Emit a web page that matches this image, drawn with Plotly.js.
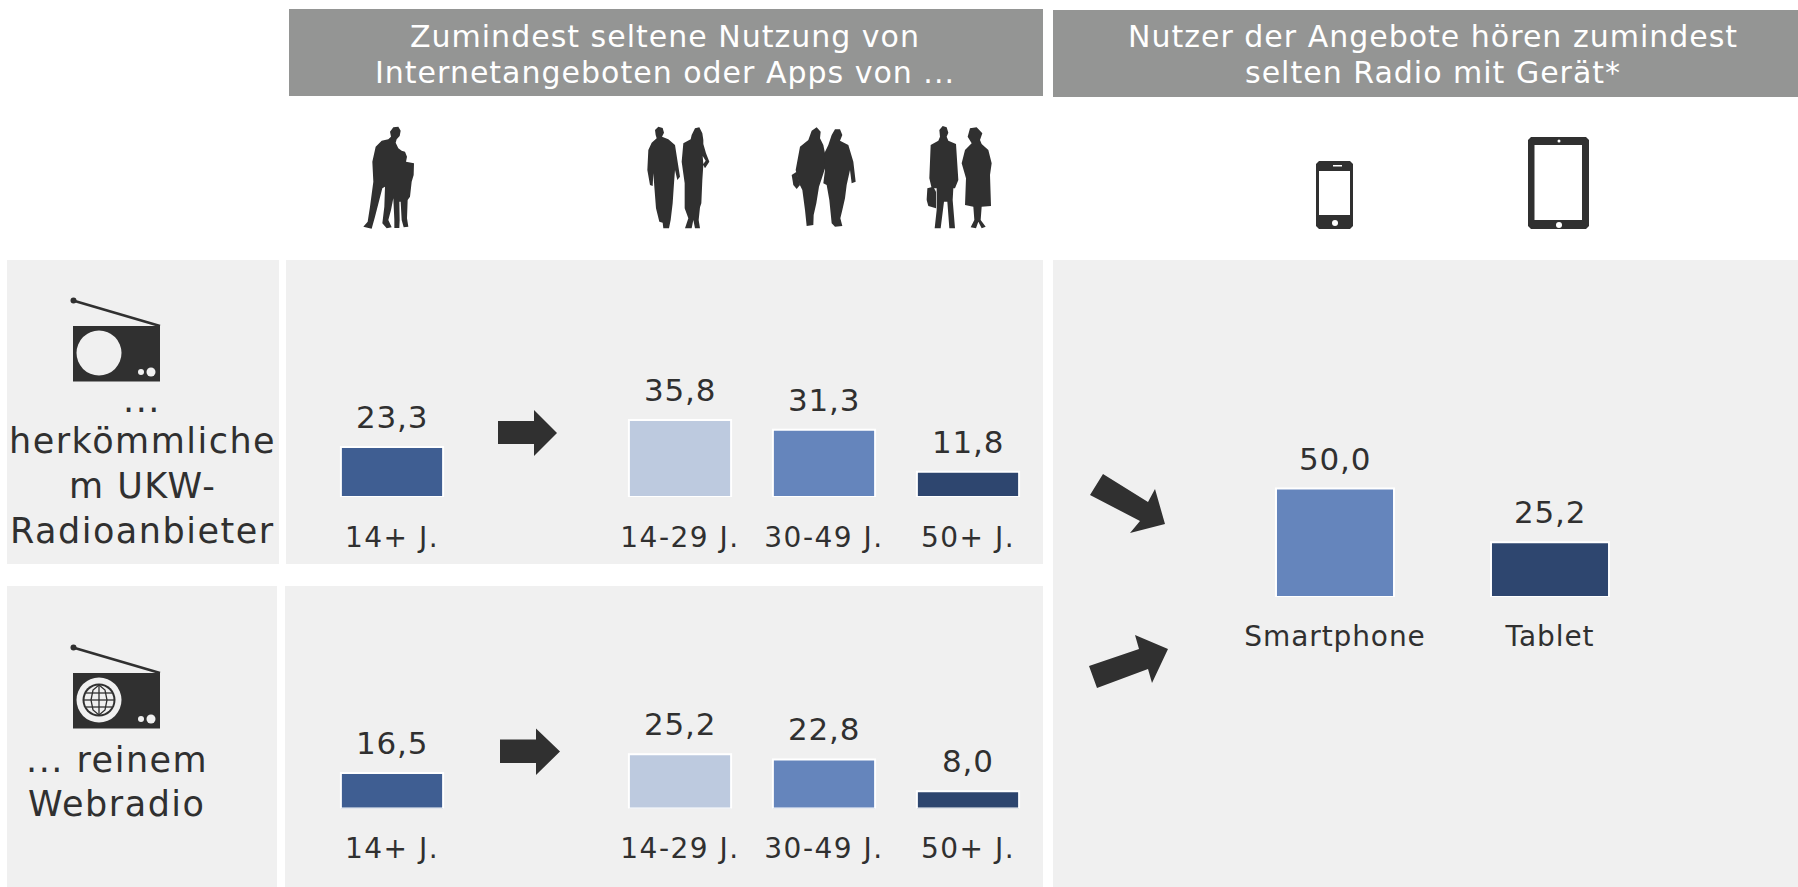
<!DOCTYPE html>
<html lang="de">
<head>
<meta charset="utf-8">
<script src="https://cdn.plot.ly/plotly-3.0.1.min.js"></script>
<style>
html,body{margin:0;padding:0;background:#fff;overflow:hidden}
#chart{width:1798px;height:887px}
.xtick text,.x2tick text{letter-spacing:1.5px}
.x3tick text{letter-spacing:0.9px}
.annotation-text[style*="font-size: 30px"]{letter-spacing:1px}
.annotation-text[style*="font-size: 35px"]{letter-spacing:1.5px}
.annotation-text[style*="font-size: 31px"]{letter-spacing:0.8px}
</style>
</head>
<body>
<div id="chart"></div>
<script>
// ---- data ----
const ageCategories = ['14+ J.', ' ', '14-29 J.', '30-49 J.', '50+ J.'];
const ukwValues = [23.3, null, 35.8, 31.3, 11.8];
const webradioValues = [16.5, null, 25.2, 22.8, 8.0];
const deviceCategories = ['Smartphone', 'Tablet'];
const deviceValues = [50.0, 25.2];
const ageColors = ['#3f5e92', '#3f5e92', '#bdcadf', '#6585bc', '#2e466f'];
const deviceColors = ['#6585bc', '#2e466f'];
const headerLeft = ['Zumindest seltene Nutzung von', 'Internetangeboten oder Apps von ...'];
const headerRight = ['Nutzer der Angebote hören zumindest', 'selten Radio mit Gerät*'];
const rowLabelTop = ['...', 'herkömmliche', 'm UKW-', 'Radioanbieter'];
const rowLabelBottom = ['... reinem', 'Webradio'];

// ---- page geometry ----
const W = 1798, H = 887;
const DARK = '#303030', PANEL = '#f0f0f0', HEAD = '#949594';
const FONT = '"DejaVu Sans", sans-serif';
const px = x => x / W, py = y => 1 - y / H;
const fmt = v => v.toFixed(1).replace('.', ',');

const shapes = [];
const rect = (x0, y0, x1, y1, color, layer) => shapes.push({type:'rect', xref:'paper', yref:'paper', x0:px(x0), x1:px(x1), y0:py(y1), y1:py(y0), fillcolor:color, line:{width:0}, layer:layer||'below'});
const circ = (cx, cy, r, color) => shapes.push({type:'circle', xref:'paper', yref:'paper', x0:px(cx-r), x1:px(cx+r), y0:py(cy+r), y1:py(cy-r), fillcolor:color, line:{width:0}, layer:'below'});
const poly = (pts, color) => shapes.push({type:'path', xref:'paper', yref:'paper',
  path:'M' + pts.map(p => px(p[0]) + ',' + py(p[1])).join('L') + 'Z', fillcolor:color, line:{width:0}, layer:'below'});
const lineSeg = (pts, color, w) => shapes.push({type:'path', xref:'paper', yref:'paper',
  path:'M' + pts.map(p => px(p[0]) + ',' + py(p[1])).join('L'), line:{width:w, color:color}, layer:'below'});
const crop = (ox, oy, pts) => pts.map(p => [ox + p[0] / 3, oy + p[1] / 3]);
const chamfer = (x0, y0, x1, y1, c, color) => poly([[x0+c,y0],[x1-c,y0],[x1,y0+c],[x1,y1-c],[x1-c,y1],[x0+c,y1],[x0,y1-c],[x0,y0+c]], color);

// panels and headers
rect(289, 9, 1043, 96, HEAD);
rect(1053, 10, 1798, 97, HEAD);
rect(7, 260, 279, 564, PANEL);
rect(286, 260, 1043, 564, PANEL);
rect(7, 586, 277, 887, PANEL);
rect(285, 586, 1043, 887, PANEL);
rect(1053, 260, 1798, 887, PANEL);

// silhouettes
[[355,120,[[105,35],[115,22],[130,20],[137,32],[134,48],[125,58],[122,68],[130,85],[140,92],[150,95],[156,110],[153,125],[177,130],[176,165],[170,185],[165,230],[158,240],[156,295],[160,320],[146,322],[140,300],[137,245],[133,245],[134,300],[133,324],[118,324],[118,300],[115,235],[108,270],[100,300],[110,322],[95,325],[82,310],[88,260],[90,200],[82,205],[60,290],[50,326],[25,320],[38,305],[45,260],[55,185],[52,125],[62,80],[80,62],[100,58],[108,50]]],
 [640,120,[[45,30],[55,20],[68,24],[72,38],[66,50],[85,58],[105,75],[112,120],[120,170],[112,180],[105,150],[102,190],[98,250],[92,300],[87,325],[70,325],[68,308],[58,305],[48,265],[43,200],[40,160],[38,198],[30,195],[22,150],[25,90],[35,68],[50,55],[47,45]]],
 [640,120,[[155,45],[165,25],[178,22],[187,40],[190,60],[190,72],[198,100],[208,125],[195,145],[190,135],[187,180],[184,250],[180,262],[176,300],[180,325],[165,325],[160,300],[155,325],[135,325],[145,295],[134,265],[134,190],[125,125],[130,70],[152,58]]],
 [785,120,[[70,60],[80,32],[95,22],[107,35],[105,55],[115,75],[120,100],[125,130],[112,170],[102,200],[94,250],[86,285],[85,315],[65,318],[60,270],[52,210],[42,190],[32,150],[45,80]]],
 [785,120,[[20,165],[35,155],[45,195],[35,207],[25,195]]],
 [785,120,[[140,45],[150,28],[165,28],[172,45],[165,62],[190,75],[205,125],[212,185],[200,190],[195,150],[185,195],[180,235],[172,270],[166,295],[172,318],[150,320],[140,310],[133,240],[125,195],[115,190],[120,150],[118,100],[130,75]]],
 [920,120,[[58,30],[68,18],[80,22],[85,38],[80,50],[85,62],[108,72],[115,180],[105,205],[100,205],[98,240],[105,325],[88,325],[82,245],[72,245],[62,325],[44,325],[50,270],[50,205],[35,205],[28,175],[32,75],[55,62],[60,50]]],
 [920,120,[[22,205],[40,200],[48,215],[48,265],[25,258],[20,240]]],
 [920,120,[[143,50],[150,25],[170,22],[187,40],[180,60],[185,72],[205,90],[215,130],[210,165],[213,258],[185,260],[182,300],[197,320],[185,325],[175,305],[168,325],[152,322],[163,300],[160,260],[135,255],[138,175],[125,130],[135,90],[155,70]]]
].forEach(f => poly(crop(f[0], f[1], f[2]), DARK));
poly(crop(640,120,[[188,108],[197,122],[190,132]]), '#ffffff');

// radios
function radio(dy, globe) {
  lineSeg([[73,646.5+dy],[160,672+dy]], DARK, 2.5);
  circ(73.5, 646.5+dy, 3, DARK);
  rect(73, 672+dy, 160, 727.5+dy, DARK);
  circ(141, 718+dy, 3, '#f0f0f0');
  circ(151, 718+dy, 4.5, '#f0f0f0');
  circ(99, 699+dy, 22.5, '#f0f0f0');
  if (globe) {
    const c = 699 + dy, x = 99;
    circ(x, c, 16.5, DARK);
    circ(x, c, 14.5, '#f0f0f0');
    lineSeg([[x,c-15],[x,c+15]], DARK, 1.3);
    lineSeg([[x-15,c],[x+15,c]], DARK, 1.3);
    lineSeg([[x-13,c-7],[x+13,c-7]], DARK, 1.3);
    lineSeg([[x-13,c+7],[x+13,c+7]], DARK, 1.3);
    lineSeg([[x,c-15],[x-6,c-10],[x-8,c],[x-6,c+10],[x,c+15]], DARK, 1.3);
    lineSeg([[x,c-15],[x+6,c-10],[x+8,c],[x+6,c+10],[x,c+15]], DARK, 1.3);
  }
}
radio(-346, false);
radio(1, true);

// arrows
poly([[498,421],[534,421],[534,410],[557,433],[534,456],[534,444],[498,444]], DARK);
poly([[500,739.5],[536,739.5],[536,728.5],[560,751.5],[536,775],[536,763],[500,763]], DARK);
poly([[1090,495],[1103,474],[1148,502],[1155,489],[1165,524],[1130,533],[1140,521]], DARK);
poly([[1089,666],[1139,649],[1135,635],[1168,649],[1152,683],[1148,669],[1097,688]], DARK);

// phone
chamfer(1316, 161, 1353, 229, 3, DARK);
rect(1319, 171, 1350, 215, '#ffffff');
circ(1335, 223, 3, '#ffffff');
rect(1333, 165, 1342, 166.5, '#ffffff');
// tablet
chamfer(1528, 137, 1589, 229, 3, DARK);
rect(1534.5, 145, 1582, 220, '#ffffff');
circ(1559, 225, 3, '#ffffff');
circ(1559, 141, 1.5, '#ffffff');

// ---- axes ----
const KX = 144, KY = 2.15, KY2 = 2.17, SPAN = 100;
const baseUp = 497, baseLow = 808.5, baseDev = 597;
const xAxisCommon = {type:'category', showgrid:false, zeroline:false, showline:false, ticks:'outside', ticklen:15, tickwidth:1,
  tickcolor:'rgba(0,0,0,0)', tickfont:{family:FONT, size:28, color:DARK}, fixedrange:true, tickangle:0};
const yAxisCommon = {showgrid:false, zeroline:false, showline:false, showticklabels:false, ticks:'', fixedrange:true, range:[0, SPAN]};

const layout = {
  width:W, height:H, margin:{l:0, r:0, t:0, b:0, pad:0}, paper_bgcolor:'#ffffff', plot_bgcolor:'rgba(0,0,0,0)',
  showlegend:false, bargap:0, shapes:shapes,
  xaxis: Object.assign({}, xAxisCommon, {domain:[px(286), px(1043)], anchor:'y', categoryorder:'array', categoryarray:ageCategories, range:[(286-392)/KX, (1043-392)/KX]}),
  yaxis: Object.assign({}, yAxisCommon, {domain:[py(baseUp), py(baseUp - SPAN*KY)], anchor:'x'}),
  xaxis2: Object.assign({}, xAxisCommon, {domain:[px(286), px(1043)], anchor:'y2', categoryorder:'array', categoryarray:ageCategories, range:[(286-392)/KX, (1043-392)/KX]}),
  yaxis2: Object.assign({}, yAxisCommon, {domain:[py(baseLow), py(baseLow - SPAN*KY)], anchor:'x2'}),
  xaxis3: Object.assign({}, xAxisCommon, {domain:[px(1053), px(1798)], anchor:'y3', categoryorder:'array', categoryarray:deviceCategories, range:[(1053-1335)/215, (1798-1335)/215], ticklen:14}),
  yaxis3: Object.assign({}, yAxisCommon, {domain:[py(baseDev), py(baseDev - SPAN*KY2)], anchor:'x3'}),
  annotations: []
};

// ---- marks ----
const barTrace = (x, y, colors, width, xa, ya) => ({type:'bar', x:x, y:y, width:width, xaxis:xa, yaxis:ya,
  marker:{color:colors, line:{color:'#ffffff', width:2}}, hoverinfo:'x+y', cliponaxis:false});
const traces = [
  barTrace(ageCategories, ukwValues, ageColors, 0.71, 'x', 'y'),
  barTrace(ageCategories, webradioValues, ageColors, 0.71, 'x2', 'y2'),
  barTrace(deviceCategories, deviceValues, deviceColors, 0.549, 'x3', 'y3')
];

// value labels above bars
function valueLabels(cats, vals, xa, ya) {
  cats.forEach((c, i) => {
    if (vals[i] === null) return;
    layout.annotations.push({x:c, y:vals[i], xref:xa, yref:ya, text:fmt(vals[i]), showarrow:false,
      xanchor:'center', yanchor:'bottom', yshift:10, font:{family:FONT, size:31, color:DARK}});
  });
}
valueLabels(ageCategories, ukwValues, 'x', 'y');
valueLabels(ageCategories, webradioValues, 'x2', 'y2');
valueLabels(deviceCategories, deviceValues, 'x3', 'y3');

// free text, one annotation per line so the line pitch can follow the picture
function textLines(lines, cx, ys, size, color) {
  lines.forEach((t, i) => layout.annotations.push({x:px(cx), y:py(ys[i]), xref:'paper', yref:'paper', text:t, showarrow:false,
    xanchor:'center', yanchor:'middle', font:{family:FONT, size:size, color:color}}));
}
textLines(headerLeft, 665, [36, 73], 30, '#ffffff');
textLines(headerRight, 1433, [36, 73], 30, '#ffffff');
textLines(rowLabelTop, 142, [400, 441, 486, 531], 35, DARK);
textLines(rowLabelBottom, 117, [760, 804], 35, DARK);

Plotly.newPlot('chart', traces, layout, {staticPlot:true, displayModeBar:false});
</script>
</body>
</html>
